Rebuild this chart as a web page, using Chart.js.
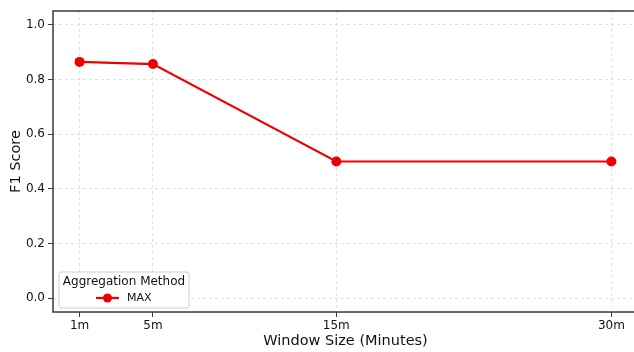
<!DOCTYPE html>
<html>
<head>
<meta charset="utf-8">
<script src="https://cdn.jsdelivr.net/npm/chart.js@4"></script>
<style>
  html, body { margin: 0; padding: 0; background: #fff; overflow: hidden; }
  #wrap { width: 634px; height: 352px; overflow: hidden; }
</style>
</head>
<body>
<div id="wrap"><canvas id="chart" width="700" height="352"></canvas></div>
<script>
/* F1 score vs. window size, MAX aggregation */

const WINDOW_MINUTES = [1, 5, 15, 30];
const WINDOW_LABELS = ['1m', '5m', '15m', '30m'];
const F1_MAX = [0.864, 0.856, 0.5, 0.5];
const Y_TICKS = [0.0, 0.2, 0.4, 0.6, 0.8, 1.0];

const FONT = "'DejaVu Sans', sans-serif";
const LINE_RED = '#ee0000';
const GRID_COLOR = '#d8d8d8';
const AXIS_COLOR = '#3a3a3a';
const TEXT_COLOR = '#111111';

function labelFor(v) {
  var i = WINDOW_MINUTES.indexOf(v);
  return i >= 0 ? WINDOW_LABELS[i] : '';
}

// frame (spines) + legend box inside the plot
var framePlugin = {
  id: 'frame',
  afterDraw: function(chart) {
    var ctx = chart.ctx;
    var a = chart.chartArea;
    ctx.save();
    ctx.strokeStyle = AXIS_COLOR;
    ctx.lineWidth = 1.5;
    ctx.strokeRect(a.left, a.top, a.right - a.left, a.bottom - a.top);

    // legend
    var bx = a.left + 6, by = a.bottom - 40, bw = 130, bh = 36;
    ctx.beginPath();
    ctx.roundRect(bx, by, bw, bh, 3);
    ctx.fillStyle = 'rgba(255,255,255,0.85)';
    ctx.fill();
    ctx.strokeStyle = '#d0d0d0';
    ctx.lineWidth = 1;
    ctx.stroke();

    ctx.fillStyle = TEXT_COLOR;
    ctx.textBaseline = 'middle';
    ctx.textAlign = 'center';
    ctx.font = '12px ' + FONT;
    ctx.fillText('Aggregation Method', bx + bw / 2, by + 10);

    var ly = by + 26;
    ctx.strokeStyle = LINE_RED;
    ctx.lineWidth = 2.2;
    ctx.beginPath();
    ctx.moveTo(bx + 37, ly);
    ctx.lineTo(bx + 60, ly);
    ctx.stroke();
    ctx.fillStyle = LINE_RED;
    ctx.beginPath();
    ctx.arc(bx + 48.5, ly, 4.5, 0, Math.PI * 2);
    ctx.fill();
    ctx.fillStyle = TEXT_COLOR;
    ctx.textAlign = 'left';
    ctx.font = '11px ' + FONT;
    ctx.fillText('MAX', bx + 68, ly + 0.5);
    ctx.restore();
  }
};

new Chart(document.getElementById('chart').getContext('2d'), {
  type: 'line',
  data: {
    datasets: [{
      label: 'MAX',
      data: WINDOW_MINUTES.map(function(m, i) { return { x: m, y: F1_MAX[i] }; }),
      borderColor: LINE_RED,
      backgroundColor: LINE_RED,
      borderWidth: 2.2,
      pointRadius: 5,
      pointHoverRadius: 5,
      pointBorderWidth: 0,
      tension: 0,
      fill: false
    }]
  },
  options: {
    responsive: false,
    animation: false,
    events: [],
    // canvas is wider than the window: the right spine falls outside, as in the reference
    layout: { padding: { left: 0, top: 11, right: 62, bottom: 0 } },
    plugins: { legend: { display: false }, tooltip: { enabled: false } },
    scales: {
      x: {
        type: 'linear',
        min: -0.45,
        max: 31.45,
        afterBuildTicks: function(scale) {
          scale.ticks = WINDOW_MINUTES.map(function(v) { return { value: v }; });
        },
        afterFit: function(scale) { scale.height = 40; },
        grid: {
          color: GRID_COLOR, lineWidth: 0.8,
          tickLength: 5, tickColor: AXIS_COLOR, tickWidth: 1, tickBorderDash: []
        },
        border: { display: false, dash: [3, 3] },
        ticks: {
          color: TEXT_COLOR, padding: 2, maxRotation: 0,
          font: { family: FONT, size: 12 },
          callback: function(v) { return labelFor(v); }
        },
        title: {
          display: true, text: 'Window Size (Minutes)', color: TEXT_COLOR,
          font: { family: FONT, size: 14.5 }, padding: { top: 0, bottom: 2 }
        }
      },
      y: {
        min: -0.05,
        max: 1.05,
        afterBuildTicks: function(scale) {
          scale.ticks = Y_TICKS.map(function(v) { return { value: v }; });
        },
        afterFit: function(scale) { scale.width = 53; },
        grid: {
          color: GRID_COLOR, lineWidth: 0.8,
          tickLength: 5, tickColor: AXIS_COLOR, tickWidth: 1, tickBorderDash: []
        },
        border: { display: false, dash: [3, 3] },
        ticks: {
          color: TEXT_COLOR, padding: 3,
          font: { family: FONT, size: 12 },
          callback: function(v) { return v.toFixed(1); }
        },
        title: {
          display: true, text: 'F1 Score', color: TEXT_COLOR,
          font: { family: FONT, size: 14.5 }, padding: { top: 8, bottom: 0 }
        }
      }
    }
  },
  plugins: [framePlugin]
});
</script>
</body>
</html>
